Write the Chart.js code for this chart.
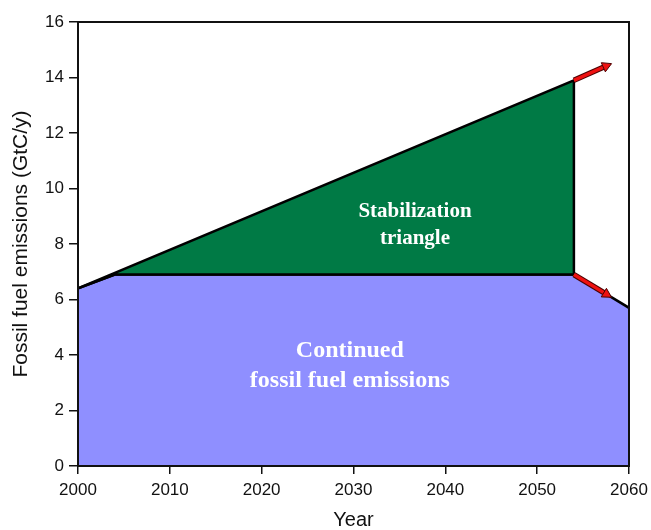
<!DOCTYPE html>
<html>
<head>
<meta charset="utf-8">
<script src="https://cdn.jsdelivr.net/npm/chart.js@4.4.1/dist/chart.umd.min.js"></script>
<style>
  body { margin: 0; background: #fff; }
</style>
</head>
<body>
<canvas id="myChart" width="651" height="530"></canvas>
<script>
// emissions path (GtC/y)
var years = [2000, 2004, 2054, 2060];
var continued = [6.4, 6.9, 6.9, 5.7];

// stabilization triangle outline
var triangleYears = [2000, 2054, 2054, 2004, 2000];
var triangleValues = [6.4, 13.9, 6.9, 6.9, 6.4];

// red arrows: start and tip
var arrowStartYears = [2054, 2054];
var arrowStartValues = [13.9, 6.9];
var arrowEndYears = [2058.1, 2058.1];
var arrowEndValues = [14.5, 6.08];

var xTicks = [2000, 2010, 2020, 2030, 2040, 2050, 2060];
var yTicks = [0, 2, 4, 6, 8, 10, 12, 14, 16];

function toPoints(xs, ys) {
  return xs.map(function (x, i) { return { x: x, y: ys[i] }; });
}

var extras = {
  id: "extras",
  afterDatasetsDraw: function (chart) {
    var c = chart.ctx, xs = chart.scales.x, ys = chart.scales.y, a = chart.chartArea;

    // arrows
    for (var i = 0; i < arrowStartYears.length; i++) {
      var x0 = xs.getPixelForValue(arrowStartYears[i]), y0 = ys.getPixelForValue(arrowStartValues[i]);
      var x1 = xs.getPixelForValue(arrowEndYears[i]), y1 = ys.getPixelForValue(arrowEndValues[i]);
      var ang = Math.atan2(y1 - y0, x1 - x0);
      var hl = 9, hw = 5;
      var bx = x1 - hl * Math.cos(ang), by = y1 - hl * Math.sin(ang);
      c.save();
      c.lineCap = "butt";
      c.beginPath(); c.moveTo(x0, y0); c.lineTo(bx, by);
      c.strokeStyle = "#4a0000"; c.lineWidth = 5.5; c.stroke();
      c.strokeStyle = "#ee1111"; c.lineWidth = 3.5; c.stroke();
      c.beginPath();
      c.moveTo(x1, y1);
      c.lineTo(bx + hw * Math.sin(ang), by - hw * Math.cos(ang));
      c.lineTo(bx - hw * Math.sin(ang), by + hw * Math.cos(ang));
      c.closePath();
      c.fillStyle = "#ee1111"; c.fill();
      c.strokeStyle = "#4a0000"; c.lineWidth = 1; c.stroke();
      c.restore();
    }

    // labels on the areas
    c.save();
    c.fillStyle = "#ffffff";
    c.textAlign = "center";
    c.textBaseline = "middle";
    c.font = "bold 21px 'Liberation Serif', 'Times New Roman', serif";
    c.fillText("Stabilization", xs.getPixelForValue(2036.7), ys.getPixelForValue(9.16));
    c.fillText("triangle", xs.getPixelForValue(2036.7), ys.getPixelForValue(8.18));
    c.font = "bold 24px 'Liberation Serif', 'Times New Roman', serif";
    c.fillText("Continued", xs.getPixelForValue(2029.6), ys.getPixelForValue(4.14));
    c.fillText("fossil fuel emissions", xs.getPixelForValue(2029.6), ys.getPixelForValue(3.06));
    c.restore();

    // box frame
    c.save();
    c.strokeStyle = "#111";
    c.lineWidth = 2;
    c.strokeRect(a.left, a.top, a.right - a.left, a.bottom - a.top);
    c.restore();
  }
};

var tickFont = { family: "'Liberation Sans', Arial, sans-serif", size: 17 };

var myChart = new Chart(document.getElementById("myChart").getContext("2d"), {
  type: "line",
  data: {
    datasets: [
      {
        label: "Stabilization triangle",
        data: toPoints(triangleYears, triangleValues),
        backgroundColor: "#007a45",
        borderColor: "#000",
        borderWidth: 2.5,
        fill: "shape",
        pointRadius: 0,
        tension: 0,
        order: 1
      },
      {
        label: "Continued fossil fuel emissions",
        data: toPoints(years, continued),
        backgroundColor: "#8f8fff",
        borderColor: "#000",
        borderWidth: 2.5,
        fill: "origin",
        pointRadius: 0,
        tension: 0,
        order: 2
      }
    ]
  },
  options: {
    responsive: false,
    animation: false,
    layout: { padding: { left: 6, right: 22, top: 22, bottom: 0 } },
    plugins: {
      legend: { display: false },
      tooltip: { enabled: false }
    },
    scales: {
      x: {
        type: "linear",
        min: 2000,
        max: 2060,
        afterBuildTicks: function (s) { s.ticks = xTicks.map(function (v) { return { value: v }; }); },
        afterFit: function (s) { s.height = 64; s.paddingLeft = 0; s.paddingRight = 0; },
        ticks: {
          color: "#111",
          font: tickFont,
          padding: 6,
          maxRotation: 0,
          callback: function (v) { return String(v); }
        },
        grid: { drawOnChartArea: false, tickLength: 8, color: "#111", lineWidth: 1.5 },
        border: { display: true, color: "#111", width: 2 },
        title: {
          display: true, text: "Year", color: "#111",
          font: { family: "'Liberation Sans', Arial, sans-serif", size: 20 },
          padding: { top: 4, bottom: -2 }
        }
      },
      y: {
        min: 0,
        max: 16,
        afterBuildTicks: function (s) { s.ticks = yTicks.map(function (v) { return { value: v }; }); },
        afterFit: function (s) { s.width = 72; s.paddingTop = 0; s.paddingBottom = 0; },
        ticks: { color: "#111", font: tickFont, padding: 5 },
        grid: { drawOnChartArea: false, tickLength: 9, color: "#111", lineWidth: 1.5 },
        border: { display: true, color: "#111", width: 2 },
        title: {
          display: true, text: "Fossil fuel emissions (GtC/y)", color: "#111",
          font: { family: "'Liberation Sans', Arial, sans-serif", size: 21 },
          padding: { top: 3, bottom: 4 }
        }
      }
    }
  },
  plugins: [extras]
});
</script>
</body>
</html>
